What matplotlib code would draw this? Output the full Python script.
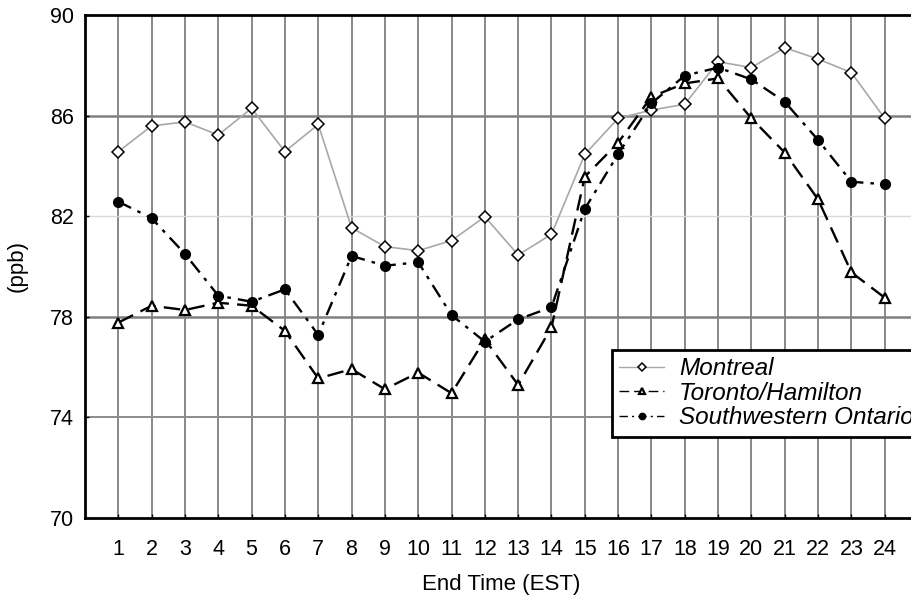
import matplotlib.pyplot as plt

# hourly ozone averages by end hour
hours = list(range(1, 25))
montreal = [84.57, 85.59, 85.75, 85.23, 86.29, 84.57, 85.65, 81.54, 80.79, 80.63,
            81.03, 81.98, 80.46, 81.28, 84.46, 85.89, 86.22, 86.45, 88.14, 87.91,
            88.70, 88.25, 87.71, 85.89]
toronto = [77.77, 78.44, 78.27, 78.56, 78.44, 77.44, 75.55, 75.92, 75.12, 75.78,
           74.96, 77.10, 75.29, 77.58, 83.57, 84.92, 86.75, 87.28, 87.48, 85.89,
           84.53, 82.67, 79.77, 78.76]
sw_ontario = [82.58, 81.92, 80.50, 78.84, 78.60, 79.09, 77.28, 80.42, 80.03, 80.17,
              78.07, 77.01, 77.90, 78.38, 82.29, 84.47, 86.49, 87.59, 87.91, 87.44,
              86.55, 85.03, 83.37, 83.27]
y_ticks = [70, 74, 78, 82, 86, 90]

plt.rcParams['font.family'] = ['Liberation Sans', 'DejaVu Sans']

fig = plt.figure(figsize=(9.12, 5.97), dpi=100)
# right edge of the axes runs past the figure border
ax = fig.add_axes([85 / 912, 79 / 597, 833 / 912, 503 / 597])

# grid lines
for h in hours:
    ax.axvline(h, color='#808080', linewidth=1.3, zorder=0)
for y in y_ticks[1:-1]:
    if y == 82:
        ax.axhline(y, color='#d8d8d8', linewidth=1.0, zorder=0)
    elif y == 74:
        ax.axhline(y, color='#8c8c8c', linewidth=1.4, zorder=0)
    else:
        ax.axhline(y, color='#808080', linewidth=1.8, zorder=0)

ax.plot(hours, montreal, color='#a8a8a8', linewidth=1.2, marker='D',
        markersize=6.5, markerfacecolor='white', markeredgecolor='black',
        markeredgewidth=1.1, label='Montreal', zorder=3)
ax.plot(hours, toronto, color='black', linewidth=1.7, dashes=(7, 3.5),
        marker='^', markersize=7.5, markerfacecolor='white',
        markeredgecolor='black', markeredgewidth=1.6,
        label='Toronto/Hamilton', zorder=4)
ax.plot(hours, sw_ontario, color='black', linewidth=1.7, dashes=(6, 3, 1.5, 3),
        marker='o', markersize=7, markerfacecolor='black',
        markeredgecolor='black', label='Southwestern Ontario', zorder=5)

ax.set_xlim(0, 25)
ax.set_ylim(70, 90)
ax.set_xticks(hours)
ax.set_yticks(y_ticks)
ax.tick_params(axis='both', direction='in', length=3, width=1,
               labelsize=15.5, colors='black')
ax.tick_params(axis='x', pad=15)
ax.tick_params(axis='y', pad=8)
for side in ax.spines.values():
    side.set_linewidth(2)
    side.set_color('black')

ax.set_xlabel('End Time (EST)', fontsize=16, labelpad=10)
ax.set_ylabel('(ppb)', fontsize=16, labelpad=16)

leg = ax.legend(loc='upper left', bbox_to_anchor=(612 / 912, 1 - 350 / 597),
                bbox_transform=fig.transFigure, fancybox=False, framealpha=1,
                edgecolor='black', prop={'style': 'italic', 'size': 17.5},
                handlelength=1.85, handletextpad=0.6, borderpad=0.3,
                labelspacing=0.06, markerscale=0.65, borderaxespad=0)
leg.get_frame().set_linewidth(2)
for line in leg.get_lines():
    line.set_linewidth(1.0)

fig.savefig('out.png', dpi=100)
